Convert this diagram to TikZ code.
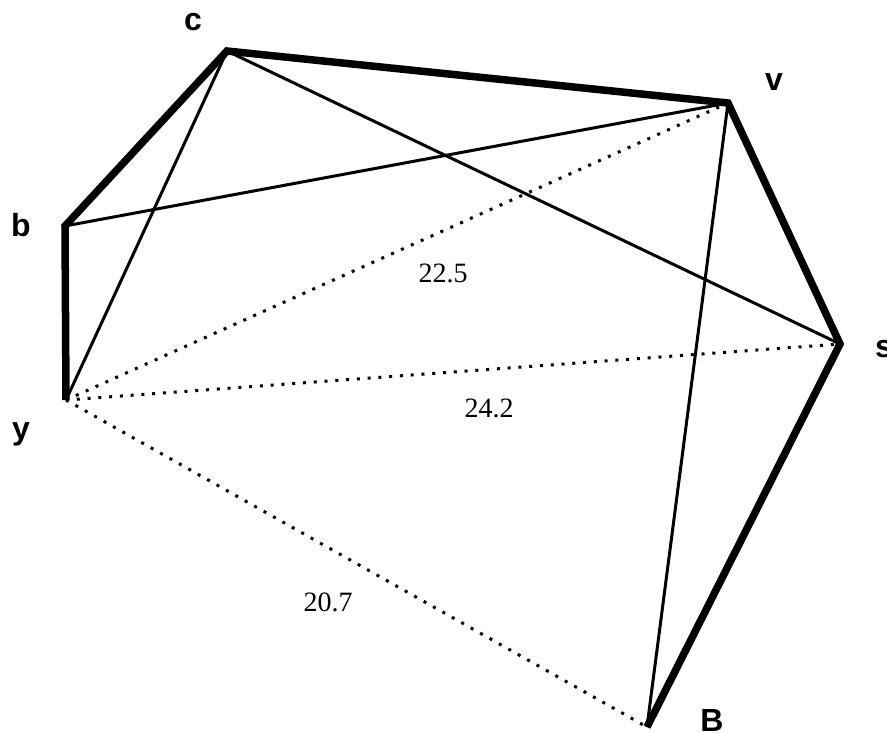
\documentclass[tikz,border=0pt]{standalone}
\usepackage{fontspec}
\setmainfont{Liberation Serif}
\setsansfont{Liberation Sans}
\usepackage{xcolor}
\usepackage{tikz}
\usetikzlibrary{positioning}
\definecolor{ink}{HTML}{000000}

\tikzset{
  vlabel/.style={text=ink, inner sep=0pt, font=\sffamily\bfseries\fontsize{32}{32}\selectfont},
  wlabel/.style={text=ink, inner sep=0pt, font=\fontsize{28}{28}\selectfont},
  heavy/.style={draw=ink, line width=7.5pt, line join=miter},
  light/.style={draw=ink, line width=3pt},
  dots/.style={draw=ink, line width=3pt, dash pattern=on 3pt off 7.8pt}
}

\begin{document}
\begin{tikzpicture}[x=1pt, y=-1pt]
      \useasboundingbox (0,0) rectangle (887,734);
      % vertices
      \coordinate (c) at (227,51);
      \coordinate (v) at (728,103);
      \coordinate (b) at (65,226);
      \coordinate (s) at (840,344);
      \coordinate (y) at (66,400);
      \coordinate (B) at (647,727);
      % vertex names
      \node[vlabel] (lc) at (193,22) {c};
      \node[vlabel] (lv) at (774,82) {v};
      \node[vlabel] (lb) at (21,225) {b};
      \node[vlabel] (ls) at (884,349) {s};
      \node[vlabel] (ly) at (21,434) {y};
      \node[vlabel] (lB) at (712,720) {B};
      % edges
      \draw[light] (c) -- (y);
      \draw[light] (c) -- (s);
      \draw[light] (b) -- (v);
      \draw[light] (v) -- (B);
      \draw[dots] (y) -- (v);
      \draw[dots] (y) -- (s);
      \draw[dots] (y) -- (B);
      \draw[heavy] (y) -- (b) -- (c) -- (v) -- (s) -- (B);
      % distances
      \node[wlabel] (dyv) at (443,273) {22.5};
      \node[wlabel] (dys) at (489,408) {24.2};
      \node[wlabel] (dyB) at (328,602) {20.7};
    \end{tikzpicture}
\end{document}
